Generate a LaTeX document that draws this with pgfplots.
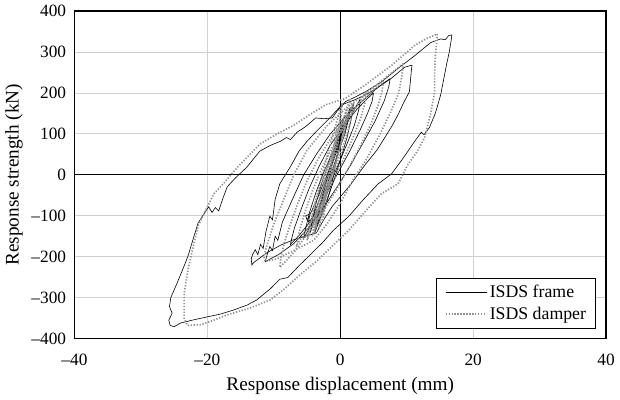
\documentclass[border=0pt]{standalone}
\usepackage{fontspec}
\setmainfont{Liberation Serif}
\usepackage{pgfplots}
\pgfplotsset{compat=1.18}
\definecolor{dampgray}{RGB}{145,145,145}
\begin{document}
\fontsize{16bp}{19bp}\selectfont
\begin{tikzpicture}
\begin{axis}[
  scale only axis, width=539bp, height=332bp,
  xmin=-40, xmax=40, ymin=-400, ymax=400,
  xtick={-40,-20,0,20,40}, xticklabels={--40,--20,0,20,40},
  ytick={-400,-300,...,400},
  yticklabels={--400,--300,--200,--100,0,100,200,300,400},
  grid=major, grid style={color=black!18, line width=0.8bp},
  extra x ticks={0}, extra y ticks={0},
  extra x tick labels={}, extra y tick labels={},
  extra tick style={grid style={black, line width=0.8bp}},
  major tick length=0pt,
  axis line style={line width=1.3bp},
  every tick label/.append style={font=\fontsize{17.5bp}{20bp}\selectfont},
  xticklabel style={yshift=-10bp},
  yticklabel style={xshift=-3bp},
  xlabel={Response displacement (mm)},
  ylabel={Response strength (kN)},
  label style={font=\fontsize{19.5bp}{22bp}\selectfont},
  xlabel style={yshift=-1bp},
  ylabel style={yshift=-2bp},
  legend style={at={(rel axis cs:1,0)}, anchor=south east, xshift=-10bp, yshift=10bp,
    draw=black, line width=0.8bp, font=\fontsize{18bp}{21bp}\selectfont,
    inner xsep=8bp, inner ysep=5bp, row sep=3bp},
  legend cell align=left,
  legend image code/.code={\draw[#1] (0bp,0bp) -- (35bp,0bp); \path (0bp,0bp) -- (42bp,0bp);},
  frame/.style={black, line width=0.6bp},
  damp/.style={dampgray, line width=1.7bp, dash pattern=on 1.3bp off 1.7bp},
]
% ---------------- ISDS frame (black) ----------------
\addplot[frame] coordinates {(16.8,342)(16.7,330)(16.4,300)(16.0,270)(15.1,195)(14.3,150)(13.4,115)(12.6,98)(12.2,104)(11.2,82)(10.2,58)(9.2,35)(7.7,2)(5.7,-22)(3.5,-60)(1.3,-101)(-1.0,-135)(-2.7,-166)(-4.5,-195)(-6.2,-222)(-7.9,-251)(-9.1,-255)(-10.5,-278)(-12.6,-306)(-14,-318)(-16,-330)(-18,-340)(-20,-347)(-22,-354)(-24,-362)(-25,-371)(-25.6,-368)(-25.8,-355)(-25.3,-338)(-25.7,-322)(-25.5,-300)(-24.7,-270)(-23.8,-235)(-22.9,-198)(-22.2,-160)(-21.4,-118)(-20.5,-95)(-19.8,-78)(-19.3,-92)(-18.8,-80)(-18.3,-88)(-17.6,-55)(-17,-29)(-15.8,-8)(-14.1,18)(-12.1,58)(-10.5,72)(-9,82)(-8.1,91)(-7.5,86)(-6.5,104)(-5.2,118)(-3.7,139)(-2.5,137)(-1.2,139)(-0.5,155)(0.8,179)(2.5,192)(4,205)(6.2,227)(8.7,260)(11.2,291)(13.6,323)(15.1,332)(15.8,330)(16.3,340)(16.8,342)};
\addlegendentry{ISDS frame}
\addplot[frame, forget plot] coordinates {(10.8,268)(10.7,255)(10.4,203)(9.5,175)(8.7,147)(7.8,120)(6.7,91)(5.5,60)(3.8,26)(1.5,-25)(-1.2,-77)(-2.5,-110)(-3.6,-142)(-5.2,-150)(-7.1,-159)(-9,-172)(-11,-190)(-13,-214)(-13.3,-220)(-13.4,-205)(-13.2,-195)(-12.8,-183)(-12.4,-195)(-12,-170)(-11.6,-180)(-11.2,-140)(-10.6,-101)(-10.2,-110)(-9.8,-60)(-9.1,-22)(-7.5,20)(-6.2,58)(-5,82)(-3.6,106)(-1.5,140)(0.2,171)(2,182)(3.8,195)(5.8,215)(7.7,236)(9.7,263)(10.8,268)};
\addplot[frame, forget plot] coordinates {(7.5,235)(7.3,215)(6.6,180)(5.2,130)(3.5,80)(1.6,25)(-0.5,-30)(-2.5,-80)(-4.8,-130)(-7,-168)(-9.3,-195)(-11.3,-212)(-11,-195)(-10.6,-175)(-10.2,-185)(-9.8,-150)(-9.4,-160)(-8.7,-115)(-7.2,-60)(-5.5,0)(-3.6,50)(-1.5,100)(1.2,150)(4,190)(6,218)(7.5,235)};
\addplot[frame, forget plot] coordinates {(5,200)(4.8,180)(4.1,150)(3,110)(1.5,60)(0,15)(-1.5,-30)(-3,-75)(-4.8,-120)(-6.3,-150)(-7.5,-170)(-7.3,-155)(-6.9,-130)(-5.8,-80)(-4.6,-30)(-3.2,20)(-1.6,70)(0.5,120)(2.5,160)(4,185)(5,200)};
\addplot[frame, forget plot] coordinates {(3,185)(2.8,160)(2.1,120)(1,75)(-0.3,25)(-1.6,-25)(-3,-75)(-4.3,-120)(-5.5,-155)(-5.2,-130)(-4.6,-90)(-3.6,-40)(-2.4,10)(-1,60)(0.5,110)(1.8,150)(3,185)};
\addplot[frame, forget plot] coordinates {(1.5,165)(1.3,140)(0.7,100)(-0.3,55)(-1.3,5)(-2.4,-45)(-3.5,-95)(-4.5,-140)(-4.2,-110)(-3.5,-60)(-2.6,-10)(-1.5,40)(-0.3,90)(0.7,130)(1.5,165)};
\addplot[frame, forget plot] coordinates {(0.5,140)(0.3,110)(-0.3,60)(-1.1,10)(-1.9,-40)(-2.7,-85)(-3.5,-125)(-3.2,-95)(-2.6,-50)(-1.8,0)(-1,50)(-0.2,100)(0.5,140)};
\addplot[frame, forget plot] coordinates {(0,110)(-0.2,70)(-0.7,25)(-1.3,-25)(-2,-65)(-2.8,-100)(-2.5,-70)(-1.9,-25)(-1.3,20)(-0.6,65)(0,110)};
\addplot[frame, forget plot] coordinates {(1,120)(-0.5,60)(-2,0)(-3.5,-60)(-4.5,-95)(-5.2,-100)(-5,-110)(-4.6,-100)(-4.8,-115)(-4.2,-105)(-3.6,-80)(-2.5,-30)(-1.2,30)(0,80)(1,120)};
\addplot[frame, forget plot] coordinates {(2,175)(1.7,140)(1,90)(0,35)(-1.1,-20)(-2.3,-75)(-3.8,-140)(-3.5,-105)(-2.7,-50)(-1.7,5)(-0.6,60)(0.7,120)(2,175)};
% ---------------- ISDS damper (gray dotted) ----------------
\addplot[damp] coordinates {(14.6,344)(14.5,320)(14.3,291)(14.2,250)(14.2,203)(13.6,150)(12.7,91)(11.5,55)(10.2,26)(8.7,-22)(6.2,-46)(4,-85)(1.3,-135)(-1.2,-174)(-3.5,-210)(-6.2,-246)(-8.5,-280)(-10.6,-306)(-13.5,-325)(-17,-342)(-19,-355)(-21,-366)(-23,-368)(-23.5,-350)(-23.5,-320)(-23.5,-290)(-23.2,-260)(-22.9,-231)(-22.2,-180)(-21.4,-125)(-20,-78)(-19,-46)(-17.5,-20)(-15.5,18)(-12.1,75)(-9.5,100)(-7.1,120)(-4.5,148)(-2.2,171)(0.8,187)(3.7,219)(7.7,267)(11.2,316)(13,333)(14.6,344)};
\addlegendentry{ISDS damper}
\addplot[damp, forget plot] coordinates {(9.5,272)(9.3,245)(8.8,200)(7.5,150)(6,100)(4,40)(2,-10)(0,-70)(-2,-120)(-4,-160)(-7,-185)(-9.5,-205)(-11.3,-212)(-11.5,-200)(-11,-170)(-10,-120)(-8.5,-60)(-7,0)(-5,60)(-2,120)(1,165)(4,200)(7,240)(9.5,272)};
\addplot[damp, forget plot] coordinates {(6.5,228)(6.3,205)(5.7,170)(4.5,120)(3,70)(1.2,15)(-0.7,-40)(-2.8,-95)(-5,-145)(-7,-190)(-9.1,-226)(-8.9,-200)(-8.4,-165)(-7.6,-125)(-6.4,-70)(-5,-15)(-3.3,40)(-1.2,95)(1.3,145)(3.8,190)(6.5,228)};
\addplot[damp, forget plot] coordinates {(4,205)(3.8,180)(3.1,140)(1.9,90)(0.4,35)(-1.2,-20)(-2.9,-75)(-4.7,-125)(-6.5,-170)(-6.2,-140)(-5.4,-95)(-4.2,-40)(-2.8,15)(-1.1,70)(0.8,125)(2.5,170)(4,205)};
\addplot[damp, forget plot] coordinates {(2,175)(1.8,150)(1.2,110)(0.2,60)(-0.9,10)(-2.1,-40)(-3.4,-90)(-4.8,-150)(-4.5,-120)(-3.8,-70)(-2.9,-20)(-1.8,30)(-0.6,85)(0.7,130)(2,175)};
\addplot[damp, forget plot] coordinates {(1,160)(0.8,130)(0.2,85)(-0.6,35)(-1.5,-15)(-2.5,-65)(-4,-145)(-3.7,-110)(-3.1,-65)(-2.3,-15)(-1.4,35)(-0.4,90)(1,160)};
\addplot[damp, forget plot] coordinates {(0,140)(-0.2,100)(-0.7,50)(-1.4,0)(-2.1,-50)(-3.2,-130)(-2.9,-95)(-2.3,-45)(-1.6,5)(-0.9,55)(0,140)};
\addplot[damp, forget plot] coordinates {(-0.5,120)(-0.7,70)(-1.2,20)(-1.8,-35)(-2.6,-110)(-2.3,-70)(-1.8,-20)(-1.2,40)(-0.5,120)};
\addplot[damp, forget plot] coordinates {(1.5,185)(1.2,150)(0.5,100)(-0.5,40)(-1.6,-20)(-2.8,-80)(-4.2,-150)(-3.9,-115)(-3.2,-60)(-2.2,0)(-1.1,60)(0.2,125)(1.5,185)};
\addplot[damp, forget plot] coordinates {(0.3,175)(0,130)(-0.6,80)(-1.5,20)(-2.5,-40)(-3.6,-100)(-5,-160)(-4.6,-125)(-3.8,-70)(-2.9,-10)(-1.9,50)(-0.8,115)(0.3,175)};
\end{axis}
\end{tikzpicture}
\end{document}
